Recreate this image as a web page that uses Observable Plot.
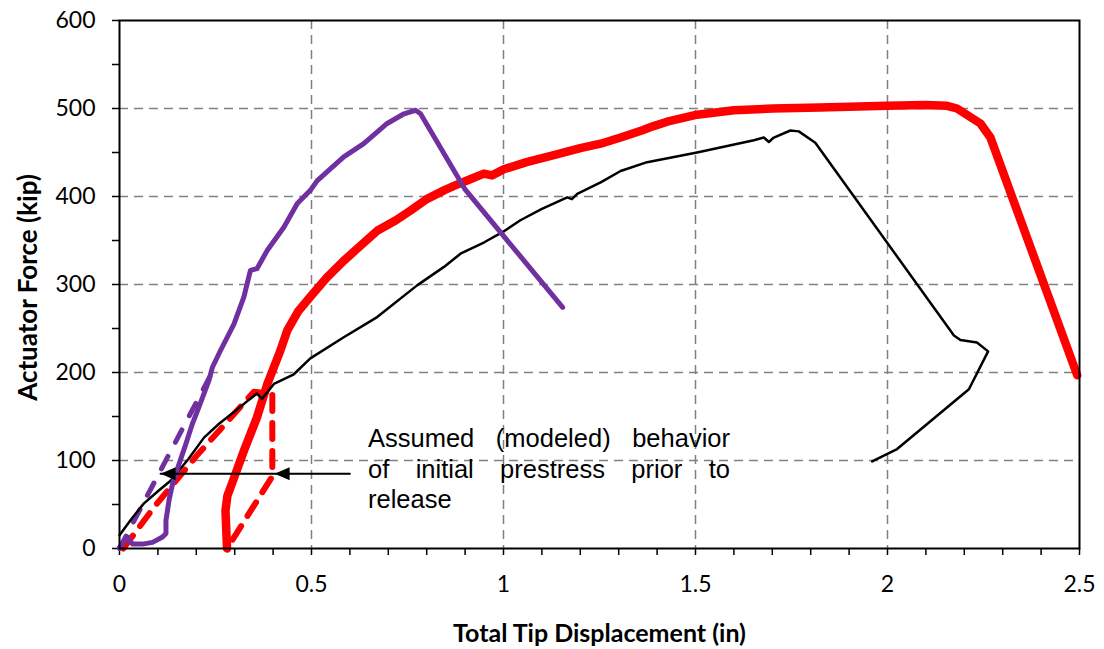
<!DOCTYPE html>
<html>
<head>
<meta charset="utf-8">
<script src="https://cdn.jsdelivr.net/npm/d3@7"></script>
<script src="https://cdn.jsdelivr.net/npm/@observablehq/plot@0.6"></script>
<style>
  html, body { margin: 0; padding: 0; background: #fff; }
  #wrap { position: relative; width: 1104px; height: 649px; }
  #note { position: absolute; left: 368px; top: 423px; width: 362px;
          font-family: "Liberation Sans", Arial, sans-serif; font-size: 25.5px; line-height: 30.5px; color: #000; }
  #note .j { text-align: justify; text-align-last: justify; }
</style>
</head>
<body>
<div id="wrap">
  <div id="chart"></div>
  <div id="note">
    <div class="j">Assumed (modeled) behavior</div>
    <div class="j">of initial prestress prior to</div>
    <div>release</div>
  </div>
</div>
<script>
// ---- data ----
const xMajorTicks = [0, 0.5, 1, 1.5, 2, 2.5];
const xMinorTicks = [0.1,0.2,0.3,0.4,0.6,0.7,0.8,0.9,1.1,1.2,1.3,1.4,1.6,1.7,1.8,1.9,2.1,2.2,2.3,2.4];
const yMajorTicks = [0, 100, 200, 300, 400, 500, 600];
const yMinorTicks = [50, 150, 250, 350, 450, 550];
const xGridLines = [0.5, 1, 1.5, 2];
const yGridLines = [100, 200, 300, 400, 500];

const redSolid = [
  [0.28,0],[0.276,43],[0.281,60],[0.293,74],[0.324,111],[0.358,149],[0.385,187],[0.419,225],
  [0.437,248],[0.466,270],[0.497,286],[0.54,308],[0.584,327],[0.63,345],[0.671,361],[0.72,373],
  [0.758,384],[0.8,397],[0.845,407],[0.871,412],[0.91,419],[0.949,426],[0.97,424],[1.001,431],
  [1.06,439],[1.131,447],[1.2,455],[1.253,460],[1.305,467],[1.36,475],[1.391,480],[1.426,485],
  [1.504,493],[1.6,498],[1.7,500],[1.824,501],[1.999,503],[2.1,504],[2.155,503],[2.181,500],
  [2.242,483],[2.268,467],[2.494,197]
];
const blackSolid = [
  [0,15],[0.03,33],[0.063,51],[0.1,65],[0.133,77],[0.18,102],[0.22,126],[0.26,142],[0.298,155],
  [0.34,170],[0.358,176],[0.371,170],[0.402,187],[0.454,198],[0.497,216],[0.584,240],[0.671,263],
  [0.775,299],[0.845,320],[0.888,335],[0.95,348],[1.003,361],[1.044,373],[1.1,386],[1.166,399],
  [1.178,397],[1.192,403],[1.253,416],[1.305,429],[1.374,439],[1.504,450],[1.652,464],[1.678,467],
  [1.691,462],[1.704,467],[1.747,475],[1.769,474],[1.812,461],[2.173,242],[2.19,237],[2.233,234],
  [2.262,224],[2.212,181],[2.025,113],[1.96,99]
];
const purpleSolid = [
  [0,1],[0.021,13],[0.034,5],[0.06,5],[0.086,7],[0.112,13],[0.121,17],[0.121,32],[0.129,55],
  [0.138,73],[0.155,96],[0.173,119],[0.19,142],[0.207,161],[0.22,176],[0.233,191],[0.242,206],
  [0.263,225],[0.298,255],[0.324,286],[0.341,316],[0.358,318],[0.385,339],[0.428,365],[0.463,392],
  [0.497,407],[0.515,418],[0.584,445],[0.636,460],[0.697,483],[0.741,494],[0.771,498],[0.784,494],
  [0.9,408],[1.154,274]
];
const redDashed = [[0.01,0],[0.09,47],[0.2,105],[0.35,178],[0.398,176],[0.398,82],[0.28,0]];
const purpleDashed = [[0.0,0],[0.235,195]];
const arrowShaft = [[0.107,85],[0.6,85]];
const arrowTips = [[0.107,85],[0.404,85]];

const xLabel = "Total Tip Displacement (in)";
const yLabel = "Actuator Force (kip)";

// ---- chart ----
const leftArrowHead = {
  draw(ctx) { ctx.moveTo(0,0); ctx.lineTo(15,-6.5); ctx.lineTo(15,6.5); ctx.closePath(); }
};
const X = d => d[0], Y = d => d[1];
const gridStyle = {stroke: "#808080", strokeWidth: 1.5, strokeDasharray: "9,6", strokeOpacity: 1};

const chart = Plot.plot({
  width: 1104, height: 649,
  marginLeft: 119, marginRight: 25, marginTop: 20, marginBottom: 101,
  x: {domain: [0, 2.5]},
  y: {domain: [0, 600]},
  style: {fontFamily: "Lato, sans-serif", fontSize: "23px", color: "black", background: "white"},
  marks: [
    Plot.ruleX(xGridLines, gridStyle),
    Plot.ruleY(yGridLines, gridStyle),
    Plot.axisX(xMajorTicks, {tickSize: 7, tickPadding: 20, tickFormat: d => String(d), label: null, strokeWidth: 1.5}),
    Plot.axisX(xMinorTicks, {tickSize: 7, text: null, label: null, strokeWidth: 1.5}),
    Plot.axisY(yMajorTicks, {tickSize: 7, tickPadding: 17, tickFormat: d => String(d), label: null, strokeWidth: 1.5}),
    Plot.axisY(yMinorTicks, {tickSize: 7, text: null, label: null, strokeWidth: 1.5}),
    Plot.line(redDashed, {x: X, y: Y, stroke: "#ff0000", strokeWidth: 6, strokeDasharray: "16,12", strokeLinecap: "round", curve: "linear"}),
    Plot.line(purpleDashed, {x: X, y: Y, stroke: "#7030a0", strokeWidth: 5, strokeDasharray: "14,16", strokeLinecap: "round"}),
    Plot.line(redSolid, {x: X, y: Y, stroke: "#ff0000", strokeWidth: 8.5, strokeLinejoin: "round", strokeLinecap: "round"}),
    Plot.line(blackSolid, {x: X, y: Y, stroke: "#000", strokeWidth: 2.5, strokeLinejoin: "round"}),
    Plot.line(purpleSolid, {x: X, y: Y, stroke: "#7030a0", strokeWidth: 5, strokeLinejoin: "round"}),
    Plot.line(arrowShaft, {x: X, y: Y, stroke: "#000", strokeWidth: 2}),
    Plot.dot(arrowTips, {x: X, y: Y, symbol: leftArrowHead, fill: "#000", stroke: "none"}),
    Plot.frame({stroke: "#000", strokeWidth: 2}),
    Plot.text([xLabel], {frameAnchor: "bottom", dy: 85, textAnchor: "middle", fontWeight: "bold", fontSize: 25, lineAnchor: "middle"}),
    Plot.text([yLabel], {frameAnchor: "left", dx: -91, dy: 3, textAnchor: "middle", rotate: -90, fontWeight: "bold", fontSize: 26, lineAnchor: "middle"})
  ]
});
document.getElementById("chart").appendChild(chart);
</script>
</body>
</html>
